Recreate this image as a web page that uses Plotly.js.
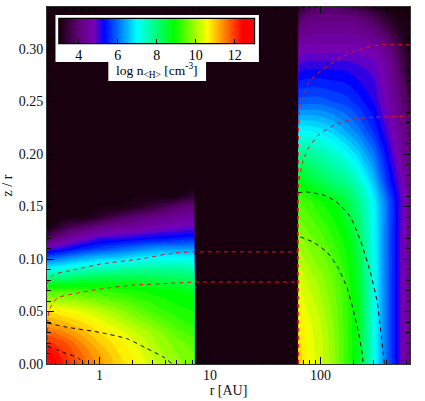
<!DOCTYPE html>
<html><head><meta charset="utf-8">
<script src="https://cdn.plot.ly/plotly-3.0.1.min.js"></script>
<style>html,body{margin:0;padding:0;background:#fff}#g{width:425px;height:401px}</style>
</head><body><div id="g"></div>
<script>
const rInner = [0.336,0.5,0.7,1,1.5,2.2,3.3,5,7.24];
const zInner = [0,.01,.02,.03,.04,.05,.06,.07,.08,.09,.10,.11,.12,.13,.14,.15,.16,.17,.34];
const nInner = [
[12.8,12.1,11.7,11.3,10.9,10.6,10.2,9.9,9.7],
[12.5,12,11.6,11.2,10.8,10.5,10.1,9.8,9.6],
[12.1,11.8,11.4,11,10.7,10.4,10,9.7,9.5],
[11.7,11.4,11.1,10.8,10.5,10.2,9.9,9.5,9.3],
[11.2,11,10.8,10.5,10.2,9.9,9.6,9.3,9.1],
[10.8,10.6,10.4,10.2,9.9,9.6,9.3,9.1,9],
[10,10,9.9,9.7,9.5,9.3,9.1,8.95,8.9],
[9.3,9.3,9.3,9.2,9.1,9,8.9,8.8,8.7],
[8.2,8.3,8.4,8.5,8.5,8.5,8.4,8.3,8.2],
[7.1,7.3,7.5,7.6,7.7,7.8,7.8,7.8,7.7],
[6,6.3,6.5,6.7,6.8,7,7.1,7.1,7.1],
[4.9,5.2,5.5,5.7,5.9,6.1,6.3,6.3,6.3],
[3.8,4.4,4.7,5,5.1,5.2,5.3,5.4,5.5],
[3,3.6,3.9,4.2,4.4,4.5,4.7,4.8,4.9],
[3,3,3,3.3,3.7,4,4.2,4.4,4.5],
[3,3,3,3,3,3.2,3.5,3.9,4.1],
[3,3,3,3,3,3,3,3,3.4],
[3,3,3,3,3,3,3,3,3],
[3,3,3,3,3,3,3,3,3]];
// outer-disk density table
const rOuter = [63.2,75,100,130,170,220,300,400,500,647];
const zOuter = [0,.04,.08,.12,.155,.175,.20,.222,.25,.285,.30,.33,.34];
const nOuter = [
[11.1,10.6,10.3,9.9,9.3,8.7,7.2,6,5.2,4.1],
[10.8,10.5,10.2,9.8,9.3,8.7,7.2,6,5.2,4.1],
[10.4,10.2,9.9,9.6,9.2,8.6,7.2,6,5.2,4.1],
[9.9,9.7,9.5,9.2,8.9,8.3,7.1,6,5.2,4.2],
[9.4,9.3,9,8.8,8.4,7.9,7,6,5.2,4.3],
[8.8,8.6,8.3,8,7.8,7.4,6.6,5.6,5,4.2],
[7.9,7.8,7.6,7.4,7.1,6.7,6.1,5.3,4.7,4],
[7,7,6.9,6.7,6.4,6.1,5.6,5,4.5,3.9],
[5.9,5.9,5.9,5.8,5.7,5.5,5.2,4.7,4.2,3.6],
[5,5.1,5.1,5.1,5.1,5,4.9,4.5,3.9,3.2],
[4.6,4.7,4.7,4.7,4.7,4.7,4.6,4.2,3.7,3.1],
[3.7,4,4.1,4.1,4.1,4,3.7,3.3,3,3],
[3.3,3.6,3.8,3.8,3.7,3.5,3.2,3,3,3]];
// red dashed contours
const redAr = [.34,.34,.384,.582,1.02,2.35,4.67,7.24,63.2];
const redAz = [0,.077,.085,.0895,.0952,.10,.1057,.1067,.1067];
const redBr = [.34,.35,.417,.632,1.02,2.03,4.67,7.24,63.2];
const redBz = [0,.051,.063,.0676,.0714,.0752,.077,.078,.078];
const redCr = [63.2,63.2,64.6,70.2,77.9,100,143,195,255,349,647];
const redCz = [0,.2,.242,.254,.268,.279,.29,.297,.301,.304,.304];
const redDr = [63.2,63.2,68.7,76.3,95.9,137,195,302,647];
const redDz = [0,.17,.191,.204,.218,.228,.233,.235,.236];
// black dashed contours
const blkAr = [.34,.513,1.02,1.79,2.66,3.79,4.58];
const blkAz = [.039,.035,.03,.024,.015,.0067,0];
const blkBr = [.34,.472,.645,.716];
const blkBz = [.017,.011,.0057,0];
const blkCr = [63.2,73.2,106,128,152,187,230,283,328,372,380];
const blkCz = [.163,.164,.161,.157,.151,.14,.118,.0876,.058,.0086,0];
const blkDr = [65.9,86.4,116,146,175,199,221,240,243];
const blkDz = [.121,.116,.106,.091,.072,.051,.03,.0086,0];
const xTicks = [1,10,100];
const yTicks = [0,.05,.10,.15,.20,.25,.30];
const yLabels = ['0.00','0.05','0.10','0.15','0.20','0.25','0.30'];
const cbTicks = [4,6,8,10,12];

const scale = [[0,'#18000f'],[.05,'#3a0040'],[.10,'#600078'],[.18,'#7800b8'],[.23,'#0000ff'],[.40,'#00ffff'],[.59,'#00ff00'],[.76,'#ffff00'],[.94,'#ff0000'],[1,'#ff0000']];
const serif = '"Liberation Serif","Times New Roman",Times,serif';
function field(x,y,z){
  return {type:'contour',x:x,y:y,z:z,zmin:3,zmax:13,zauto:false,autocontour:false,colorscale:scale,
    contours:{start:3,end:13,size:0.2,coloring:'fill',showlines:false},line:{width:0},hoverinfo:'skip',showscale:false};
}
// small heatmap hidden under the inner contour; supplies the smooth colour bar
const barTrace={type:'heatmap',x:rInner.slice(3,6),y:zInner.slice(3,6),z:nInner.slice(3,6).map(row=>row.slice(3,6)),zmin:3,zmax:13,zauto:false,colorscale:scale,hoverinfo:'skip',showscale:true,
  colorbar:{orientation:'h',xref:'container',yref:'container',x:183.5/425,xanchor:'center',y:(401-19)/401,yanchor:'top',
    lenmode:'pixels',len:195,thicknessmode:'pixels',thickness:24,outlinewidth:0,
    tickmode:'array',tickvals:cbTicks,ticktext:cbTicks.map(String),ticks:'inside',ticklen:4,tickcolor:'#000',
    tickfont:{family:serif,size:14,color:'#000'},xpad:0,ypad:0}};
function dash(x,y,c){return {type:'scatter',mode:'lines',x:x,y:y,line:{color:c,width:1,dash:'4px,4px',shape:'spline',smoothing:0.5},hoverinfo:'skip',showlegend:false};}
const data=[barTrace,field(rInner,zInner,nInner),field(rOuter,zOuter,nOuter),
  dash(redAr,redAz,'#e8141c'),dash(redBr,redBz,'#e8141c'),dash(redCr,redCz,'#e8141c'),dash(redDr,redDz,'#e8141c'),
  dash(blkAr,blkAz,'#000'),dash(blkBr,blkBz,'#000'),dash(blkCr,blkCz,'#000'),dash(blkDr,blkDz,'#000')];
const ax={showline:true,linecolor:'#333',linewidth:1,mirror:'ticks',ticks:'inside',tickcolor:'#000',ticklen:7,tickwidth:1,showgrid:false,zeroline:false,
  tickfont:{family:serif,size:14,color:'#111'}};
const px=x=>(x-46.5)/364, py=y=>(364-y)/357;
const layout={width:425,height:401,showlegend:false,paper_bgcolor:'#fff',plot_bgcolor:'#18000f',
  margin:{l:46.5,r:14.5,t:7,b:37,pad:0,autoexpand:false},
  xaxis:Object.assign({},ax,{type:'log',range:[-0.474,2.811],tickmode:'array',tickvals:xTicks,ticktext:xTicks.map(String),ticklabelstandoff:-2,
    minor:{ticks:'inside',ticklen:4,dtick:'D1',tickcolor:'#000',showgrid:false},
    title:{text:'r [AU]',font:{family:serif,size:14,color:'#111'},standoff:2}}),
  yaxis:Object.assign({},ax,{range:[0,.34],tickmode:'array',tickvals:yTicks,ticktext:yLabels,
    minor:{ticks:'inside',ticklen:4,dtick:.01,tickcolor:'#000',showgrid:false},
    title:{text:'z / r',font:{family:serif,size:14,color:'#111'},standoff:6}}),
  shapes:[
    {type:'rect',xref:'paper',yref:'paper',layer:'above',x0:px(55),x1:px(259),y0:py(62),y1:py(15),fillcolor:'#fff',line:{width:0}},
    {type:'rect',xref:'paper',yref:'paper',layer:'above',x0:px(108),x1:px(206),y0:py(81),y1:py(62),fillcolor:'#fff',line:{width:0}},
    {type:'rect',xref:'paper',yref:'paper',layer:'above',x0:px(58.5),x1:px(254.5),y0:py(43.5),y1:py(18.5),fillcolor:'rgba(0,0,0,0)',line:{width:1.5,color:'#000'}}
  ],
  annotations:[{xref:'paper',yref:'paper',x:px(157),y:py(70),xanchor:'center',yanchor:'middle',showarrow:false,
    text:'log n<sub>&lt;H&gt;</sub> [cm<sup>-3</sup>]',font:{family:serif,size:13.5,color:'#000'}}]};
Plotly.newPlot('g',data,layout,{displayModeBar:false,staticPlot:true});
</script></body></html>
